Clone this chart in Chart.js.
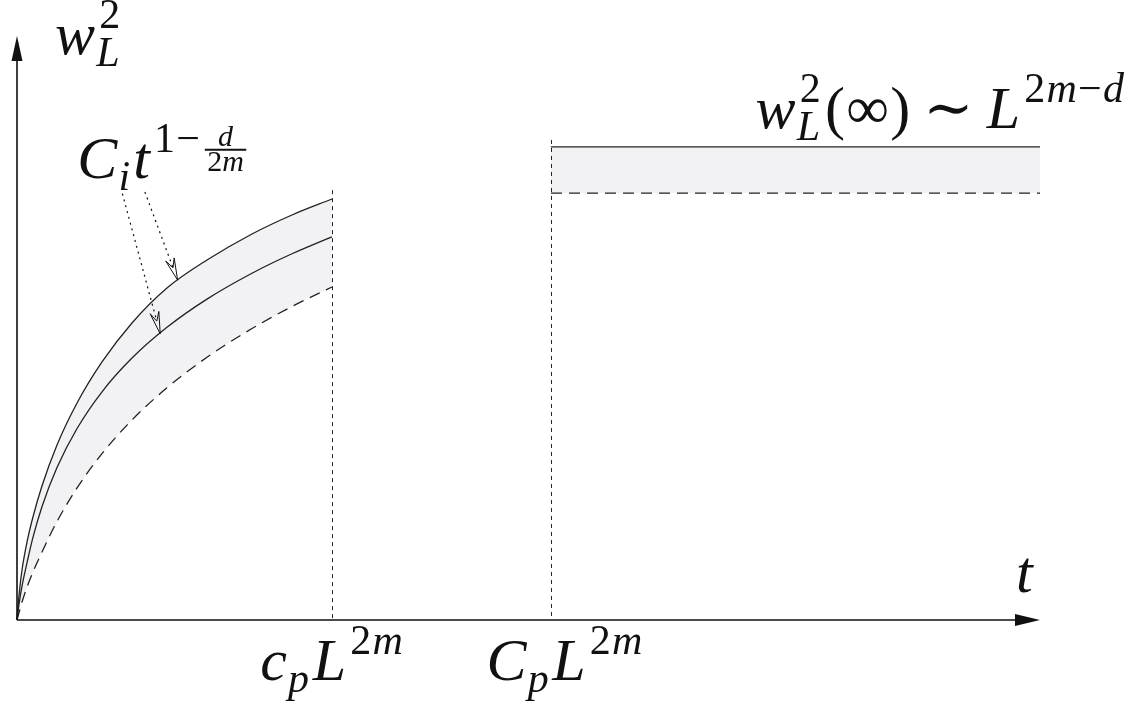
<!DOCTYPE html>
<html>
<head>
<meta charset="utf-8">
<script src="https://cdn.jsdelivr.net/npm/chart.js@4.4.1/dist/chart.umd.min.js"></script>
<style>
  body { margin: 0; background: #fff; }
  #wrap { width: 1134px; height: 710px; }
</style>
</head>
<body>
<div id="wrap"><canvas id="growthChart"></canvas></div>
<script>
// values, t and w^2 both in arbitrary units 0..10
var curveT = [0, 0.020, 0.049, 0.098, 0.156, 0.244, 0.391, 0.587, 0.831, 1.124, 1.466, 1.857, 2.297, 2.688, 3.079];
var upperW = [0, 0.428, 0.856, 1.336, 1.764, 2.295, 2.997, 3.716, 4.418, 5.086, 5.685, 6.164, 6.610, 6.935, 7.209];
var middleW = [0, 0.274, 0.582, 0.981, 1.414, 1.940, 2.611, 3.279, 3.908, 4.485, 5.012, 5.495, 5.938, 6.271, 6.562];
var lowerW = [0, 0.128, 0.308, 0.565, 0.822, 1.163, 1.687, 2.262, 2.849, 3.425, 3.976, 4.498, 4.991, 5.368, 5.702];

var plateauT = [5.22, 10];
var plateauUpper = [8.10, 8.10];
var plateauLower = [7.31, 7.31];

// dotted markers on the time axis and their labels
var markerT = [3.08, 5.22];
var markerTop = [7.36, 8.22];
var tickLabels = [
    [{s: 'c'}, {s: 'p', sub: 1}, {gap: 0.04}, {s: 'L'}, {s: '2m', sup: 1}],
    [{s: 'C'}, {s: 'p', sub: 1}, {gap: 0.04}, {s: 'L'}, {s: '2m', sup: 1}]
];

// pointers from the C_i label to the two solid curves
var pointerFromT = [1.03, 1.25];
var pointerFromW = [7.30, 7.33];
var pointerToT = [1.40, 1.57];
var pointerToW = [4.90, 5.82];

var yLabel = [{s: 'w'}, {s: '2', sup: 1, keep: 1}, {s: 'L', sub: 1}];
var xLabel = [{s: 't'}];
var curveLabel = [{s: 'C'}, {s: 'i', sub: 1}, {gap: 0.03}, {s: 't'}, {s: '1\u2212', sup: 1}, {frac: ['d', '2m']}];
var plateauLabel = [{s: 'w'}, {s: '2', sup: 1, keep: 1}, {s: 'L', sub: 1}, {gap: 0.06}, {s: '(\u221E)'},
                    {gap: 0.2}, {s: '\u223C'}, {gap: 0.2}, {s: 'L'}, {s: '2m\u2212d', sup: 1}];

function pts(xs, ys) {
    return xs.map(function(x, i) { return {x: x, y: ys[i]}; });
}

var FACE = '"Liberation Serif", "DejaVu Serif", serif';

function fontFor(ch, px) {
    var it = /[A-Za-z]/.test(ch) ? 'italic ' : '';
    return it + Math.round(px) + 'px ' + FACE;
}

function drawMath(ctx, pieces, x, y, size, align) {
    var items = [];
    var cur = 0;
    pieces.forEach(function(p) {
        var start = cur;
        if (p.gap) { cur += p.gap * size; return; }
        if (p.frac) {
            var fs = size * 0.5;
            var wn = 0, wd = 0;
            p.frac[0].split('').forEach(function(c) { ctx.font = fontFor(c, fs); wn += ctx.measureText(c).width; });
            p.frac[1].split('').forEach(function(c) { ctx.font = fontFor(c, fs); wd += ctx.measureText(c).width; });
            cur += size * 0.06;
            var fw = Math.max(wn, wd) + size * 0.08;
            items.push({bar: true, x: cur, w: fw, dy: -size * 0.47});
            var cx = cur + (fw - wn) / 2;
            p.frac[0].split('').forEach(function(c) {
                ctx.font = fontFor(c, fs);
                items.push({ch: c, font: ctx.font, x: cx, dy: -size * 0.54});
                cx += ctx.measureText(c).width;
            });
            cx = cur + (fw - wd) / 2;
            p.frac[1].split('').forEach(function(c) {
                ctx.font = fontFor(c, fs);
                items.push({ch: c, font: ctx.font, x: cx, dy: -size * 0.12});
                cx += ctx.measureText(c).width;
            });
            cur += fw;
            return;
        }
        var sc = (p.sup || p.sub) ? 0.7 : 1;
        var dy = p.sup ? -size * 0.43 : (p.sub ? size * 0.2 : 0);
        if (p.sup) cur += size * 0.05;
        p.s.split('').forEach(function(c) {
            ctx.font = fontFor(c, size * sc);
            items.push({ch: c, font: ctx.font, x: cur, dy: dy});
            cur += ctx.measureText(c).width + size * 0.02;
        });
        if (p.keep) cur = start;
    });
    var x0 = align === 'center' ? x - cur / 2 : x;
    ctx.save();
    ctx.fillStyle = '#111';
    ctx.strokeStyle = '#111';
    ctx.textBaseline = 'alphabetic';
    items.forEach(function(it) {
        if (it.bar) {
            ctx.lineWidth = 2;
            ctx.beginPath();
            ctx.moveTo(x0 + it.x, y + it.dy);
            ctx.lineTo(x0 + it.x + it.w, y + it.dy);
            ctx.stroke();
        } else {
            ctx.font = it.font;
            ctx.fillText(it.ch, x0 + it.x, y + it.dy);
        }
    });
    ctx.restore();
}

function solidArrow(ctx, x, y, dx, dy, len, half) {
    var nx = -dy, ny = dx;
    ctx.beginPath();
    ctx.moveTo(x, y);
    ctx.lineTo(x - dx * len + nx * half, y - dy * len + ny * half);
    ctx.lineTo(x - dx * len - nx * half, y - dy * len - ny * half);
    ctx.closePath();
    ctx.fill();
}

var TEXT_SIZE = 60;
var tickShift = [0, 14];

var sketchPlugin = {
    id: 'sketch',
    beforeDatasetsDraw: function(chart) {
        var ctx = chart.ctx, xs = chart.scales.x, ys = chart.scales.y;
        ctx.save();
        ctx.strokeStyle = '#222';
        ctx.lineWidth = 1;
        ctx.setLineDash([4, 4]);
        markerT.forEach(function(t, i) {
            var px = Math.round(xs.getPixelForValue(t)) + 0.5;
            ctx.beginPath();
            ctx.moveTo(px, ys.getPixelForValue(markerTop[i]));
            ctx.lineTo(px, ys.getPixelForValue(0));
            ctx.stroke();
        });
        ctx.restore();
    },
    afterDatasetsDraw: function(chart) {
        var ctx = chart.ctx, xs = chart.scales.x, ys = chart.scales.y;
        var area = chart.chartArea;
        var ox = area.left, oy = area.bottom;

        // axes with filled arrowheads
        ctx.save();
        ctx.strokeStyle = '#111';
        ctx.fillStyle = '#111';
        ctx.lineWidth = 1.6;
        ctx.beginPath();
        ctx.moveTo(ox, oy);
        ctx.lineTo(area.right - 20, oy);
        ctx.moveTo(ox, oy);
        ctx.lineTo(ox, area.top + 20);
        ctx.stroke();
        solidArrow(ctx, area.right, oy, 1, 0, 25, 6);
        solidArrow(ctx, ox, area.top, 0, -1, 25, 5.5);

        // dotted pointers with open heads
        for (var i = 0; i < pointerFromT.length; i++) {
            var x1 = xs.getPixelForValue(pointerFromT[i]), y1 = ys.getPixelForValue(pointerFromW[i]);
            var x2 = xs.getPixelForValue(pointerToT[i]), y2 = ys.getPixelForValue(pointerToW[i]);
            var L = Math.hypot(x2 - x1, y2 - y1), ux = (x2 - x1) / L, uy = (y2 - y1) / L;
            var hl = 22, hw = 4.5;
            ctx.lineWidth = 1.2;
            ctx.setLineDash([2, 4]);
            ctx.beginPath();
            ctx.moveTo(x1, y1);
            ctx.lineTo(x2 - ux * hl * 0.6, y2 - uy * hl * 0.6);
            ctx.stroke();
            ctx.setLineDash([]);
            ctx.lineWidth = 1;
            ctx.beginPath();
            ctx.moveTo(x2, y2);
            ctx.lineTo(x2 - ux * hl - uy * hw, y2 - uy * hl + ux * hw);
            ctx.lineTo(x2 - ux * hl * 0.6, y2 - uy * hl * 0.6);
            ctx.lineTo(x2 - ux * hl + uy * hw, y2 - uy * hl - ux * hw);
            ctx.closePath();
            ctx.stroke();
        }
        ctx.restore();

        // labels
        drawMath(ctx, yLabel, ox + 38, 54, TEXT_SIZE);
        drawMath(ctx, xLabel, area.right - 24, 592, TEXT_SIZE);
        drawMath(ctx, curveLabel, xs.getPixelForValue(0.59), 178, TEXT_SIZE);
        drawMath(ctx, plateauLabel, xs.getPixelForValue(7.22), 128, TEXT_SIZE);
        markerT.forEach(function(t, i) {
            drawMath(ctx, tickLabels[i], xs.getPixelForValue(t) + tickShift[i], 680, TEXT_SIZE, 'center');
        });
    }
};

var fillGrey = 'rgb(242, 242, 245)';

var ctx = document.getElementById('growthChart').getContext('2d');
var growthChart = new Chart(ctx, {
    type: 'line',
    data: {
        datasets: [
            {data: pts(curveT, upperW), borderColor: '#222', borderWidth: 1.3, fill: 2, backgroundColor: fillGrey},
            {data: pts(curveT, middleW), borderColor: '#222', borderWidth: 1.3, fill: false},
            {data: pts(curveT, lowerW), borderColor: '#222', borderWidth: 1.3, borderDash: [11, 7], fill: false},
            {data: pts(plateauT, plateauUpper), borderColor: '#222', borderWidth: 1.3, fill: 4, backgroundColor: fillGrey},
            {data: pts(plateauT, plateauLower), borderColor: '#222', borderWidth: 1.3, borderDash: [11, 7], fill: false}
        ]
    },
    options: {
        responsive: true,
        maintainAspectRatio: false,
        animation: false,
        layout: { padding: { left: 17, right: 94, top: 36, bottom: 90 } },
        elements: {
            point: { radius: 0 },
            line: { cubicInterpolationMode: 'monotone' }
        },
        datasets: { line: { clip: false } },
        scales: {
            x: { type: 'linear', min: 0, max: 10, display: false },
            y: { type: 'linear', min: 0, max: 10, display: false }
        },
        plugins: {
            legend: { display: false },
            tooltip: { enabled: false },
            filler: { drawTime: 'beforeDatasetsDraw' }
        }
    },
    plugins: [sketchPlugin]
});
</script>
</body>
</html>
